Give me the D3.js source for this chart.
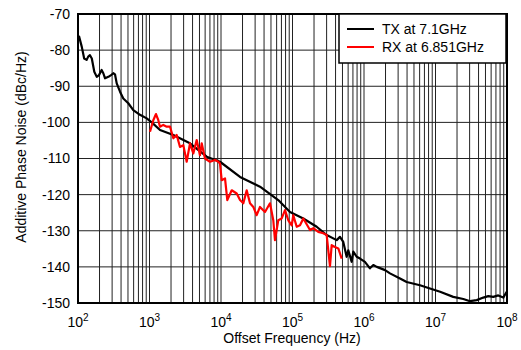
<!DOCTYPE html>
<html><head><meta charset="utf-8">
<script src="https://cdn.jsdelivr.net/npm/d3@7"></script>
<style>body{margin:0;background:#fff}svg{display:block}text{font-family:"Liberation Sans",Arial,sans-serif;fill:#000}</style>
</head><body><svg id="c" width="521" height="350"></svg>
<script>
// Data
const txFreq = [103,113,122,132,139,147,156,169,183,197,214,226,239,266,290,312,329,348,387,430,505,593,736,914,1074,1403,2153,3683,6310,9683,18450,35100,63200,92200,141600,217900,300600,415000,461000,513000,572000,603000,673000,708000,790000,879000,1.03e6,1.21e6,1.35e6,1.51e6,1.97e6,2.31e6,3.19e6,3.95e6,6.07e6,8.37e6,1.16e7,1.77e7,2.45e7,3.04e7,3.77e7,4.67e7,5.47e7,6.43e7,7.55e7,8.87e7,9.9e7];
const txNoise = [-76.0,-79.1,-82.3,-82.7,-81.8,-81.4,-82.3,-86.0,-87.4,-86.9,-85.5,-86.4,-87.8,-87.4,-86.9,-86.4,-86.7,-89.2,-91.5,-93.4,-94.7,-96.6,-97.9,-98.9,-100.0,-102.1,-103.5,-105.8,-109.5,-110.9,-115.1,-117.8,-121.5,-124.8,-126.6,-128.9,-131.2,-132.6,-131.7,-133.1,-137.2,-135.4,-138.6,-135.8,-137.2,-137.7,-138.6,-140.4,-139.5,-140.0,-140.9,-141.8,-143.2,-144.2,-145.1,-146.0,-146.9,-148.3,-148.9,-149.5,-149.2,-148.5,-148.1,-148.3,-147.9,-148.5,-146.9];
const rxFreq = [1016,1130,1233,1328,1402,1560,1741,1937,2155,2400,2670,2972,3312,3683,4100,4571,5083,5370,5970,7015,8240,9170,9680,10230,11380,12250,14120,16590,18450,20530,22880,25450,28320,31560,35100,41240,48440,53860,56870,63220,70610,78550,87380,97460,102600,114500,127400,141700,175700,195500,229500,269600,300600,334300,353200,392400,437100,487600];
const rxNoise = [-102.6,-99.4,-97.7,-99.4,-101.2,-100.7,-101.2,-101.2,-104.4,-103.5,-106.8,-106.3,-110.9,-105.8,-108.6,-104.9,-109.1,-105.8,-110.0,-110.9,-110.4,-110.9,-111.4,-116.0,-115.5,-121.5,-118.8,-119.7,-121.5,-122.4,-118.8,-122.4,-123.4,-125.7,-123.4,-124.8,-122.4,-127.1,-132.6,-127.1,-126.6,-124.3,-127.1,-128.5,-125.7,-128.9,-128.5,-126.6,-129.8,-129.3,-130.3,-130.7,-131.2,-139.8,-134.0,-134.5,-134.9,-137.7];
const yTicks = [-70,-80,-90,-100,-110,-120,-130,-140,-150];
const xDecades = [2,3,4,5,6,7,8];
const seriesNames = ["TX at 7.1GHz","RX at 6.851GHz"];
const seriesColors = ["#000000","#ff0000"];

const svg = d3.select("#c");
const L = 78, R = 507, T = 14, B = 303;
const x = d3.scaleLog().domain([1e2,1e8]).range([L,R]);
const y = d3.scaleLinear().domain([-150,-70]).range([B,T]);

// grid
const minor = [];
for (let d = 2; d < 8; d++) for (let m = 1; m <= 9; m++) minor.push(m * Math.pow(10,d));
minor.push(1e8);
const g = svg.append("g");
g.selectAll("line.v").data(minor).join("line")
  .attr("x1",d=>x(d)).attr("x2",d=>x(d)).attr("y1",T).attr("y2",B)
  .attr("stroke","#222").attr("stroke-width",1);
g.selectAll("line.h").data(yTicks).join("line")
  .attr("x1",L).attr("x2",R).attr("y1",d=>y(d)).attr("y2",d=>y(d))
  .attr("stroke","#222").attr("stroke-width",1);

// lines
const line = d3.line().x(d=>x(d[0])).y(d=>y(d[1]));
svg.append("path").datum(txFreq.map((f,i)=>[f,txNoise[i]]))
  .attr("d",line).attr("fill","none").attr("stroke",seriesColors[0]).attr("stroke-width",2.2).attr("stroke-linejoin","round");
svg.append("path").datum(rxFreq.map((f,i)=>[f,rxNoise[i]]))
  .attr("d",line).attr("fill","none").attr("stroke",seriesColors[1]).attr("stroke-width",2.2).attr("stroke-linejoin","round");

// frame
svg.append("rect").attr("x",L).attr("y",T).attr("width",R-L).attr("height",B-T)
  .attr("fill","none").attr("stroke","#000").attr("stroke-width",2);

// y tick labels
svg.selectAll("text.yt").data(yTicks).join("text")
  .attr("x",L-8).attr("y",d=>y(d)).attr("dy","0.35em").attr("text-anchor","end")
  .attr("font-size",14).text(d=>d);

// x tick labels
const xt = svg.selectAll("text.xt").data(xDecades).join("text")
  .attr("x",d=>x(Math.pow(10,d))).attr("y",327).attr("text-anchor","middle").attr("font-size",14);
xt.append("tspan").text("10");
xt.append("tspan").attr("dy",-6).attr("font-size",10).text(d=>d);

// axis titles
svg.append("text").attr("x",292).attr("y",343).attr("text-anchor","middle").attr("font-size",14).text("Offset Frequency (Hz)");
svg.append("text").attr("transform","translate(26,147) rotate(-90)").attr("text-anchor","middle").attr("font-size",14).text("Additive Phase Noise (dBc/Hz)");

// legend
const lg = svg.append("g");
lg.append("rect").attr("x",339).attr("y",14).attr("width",167).attr("height",49).attr("fill","#fff").attr("stroke","#000").attr("stroke-width",1.5);
seriesNames.forEach((n,i)=>{
  const yy = 29 + i*18;
  lg.append("line").attr("x1",347).attr("x2",374).attr("y1",yy).attr("y2",yy).attr("stroke",seriesColors[i]).attr("stroke-width",2);
  lg.append("text").attr("x",382).attr("y",yy).attr("dy","0.35em").attr("font-size",14).text(n);
});
</script></body></html>
